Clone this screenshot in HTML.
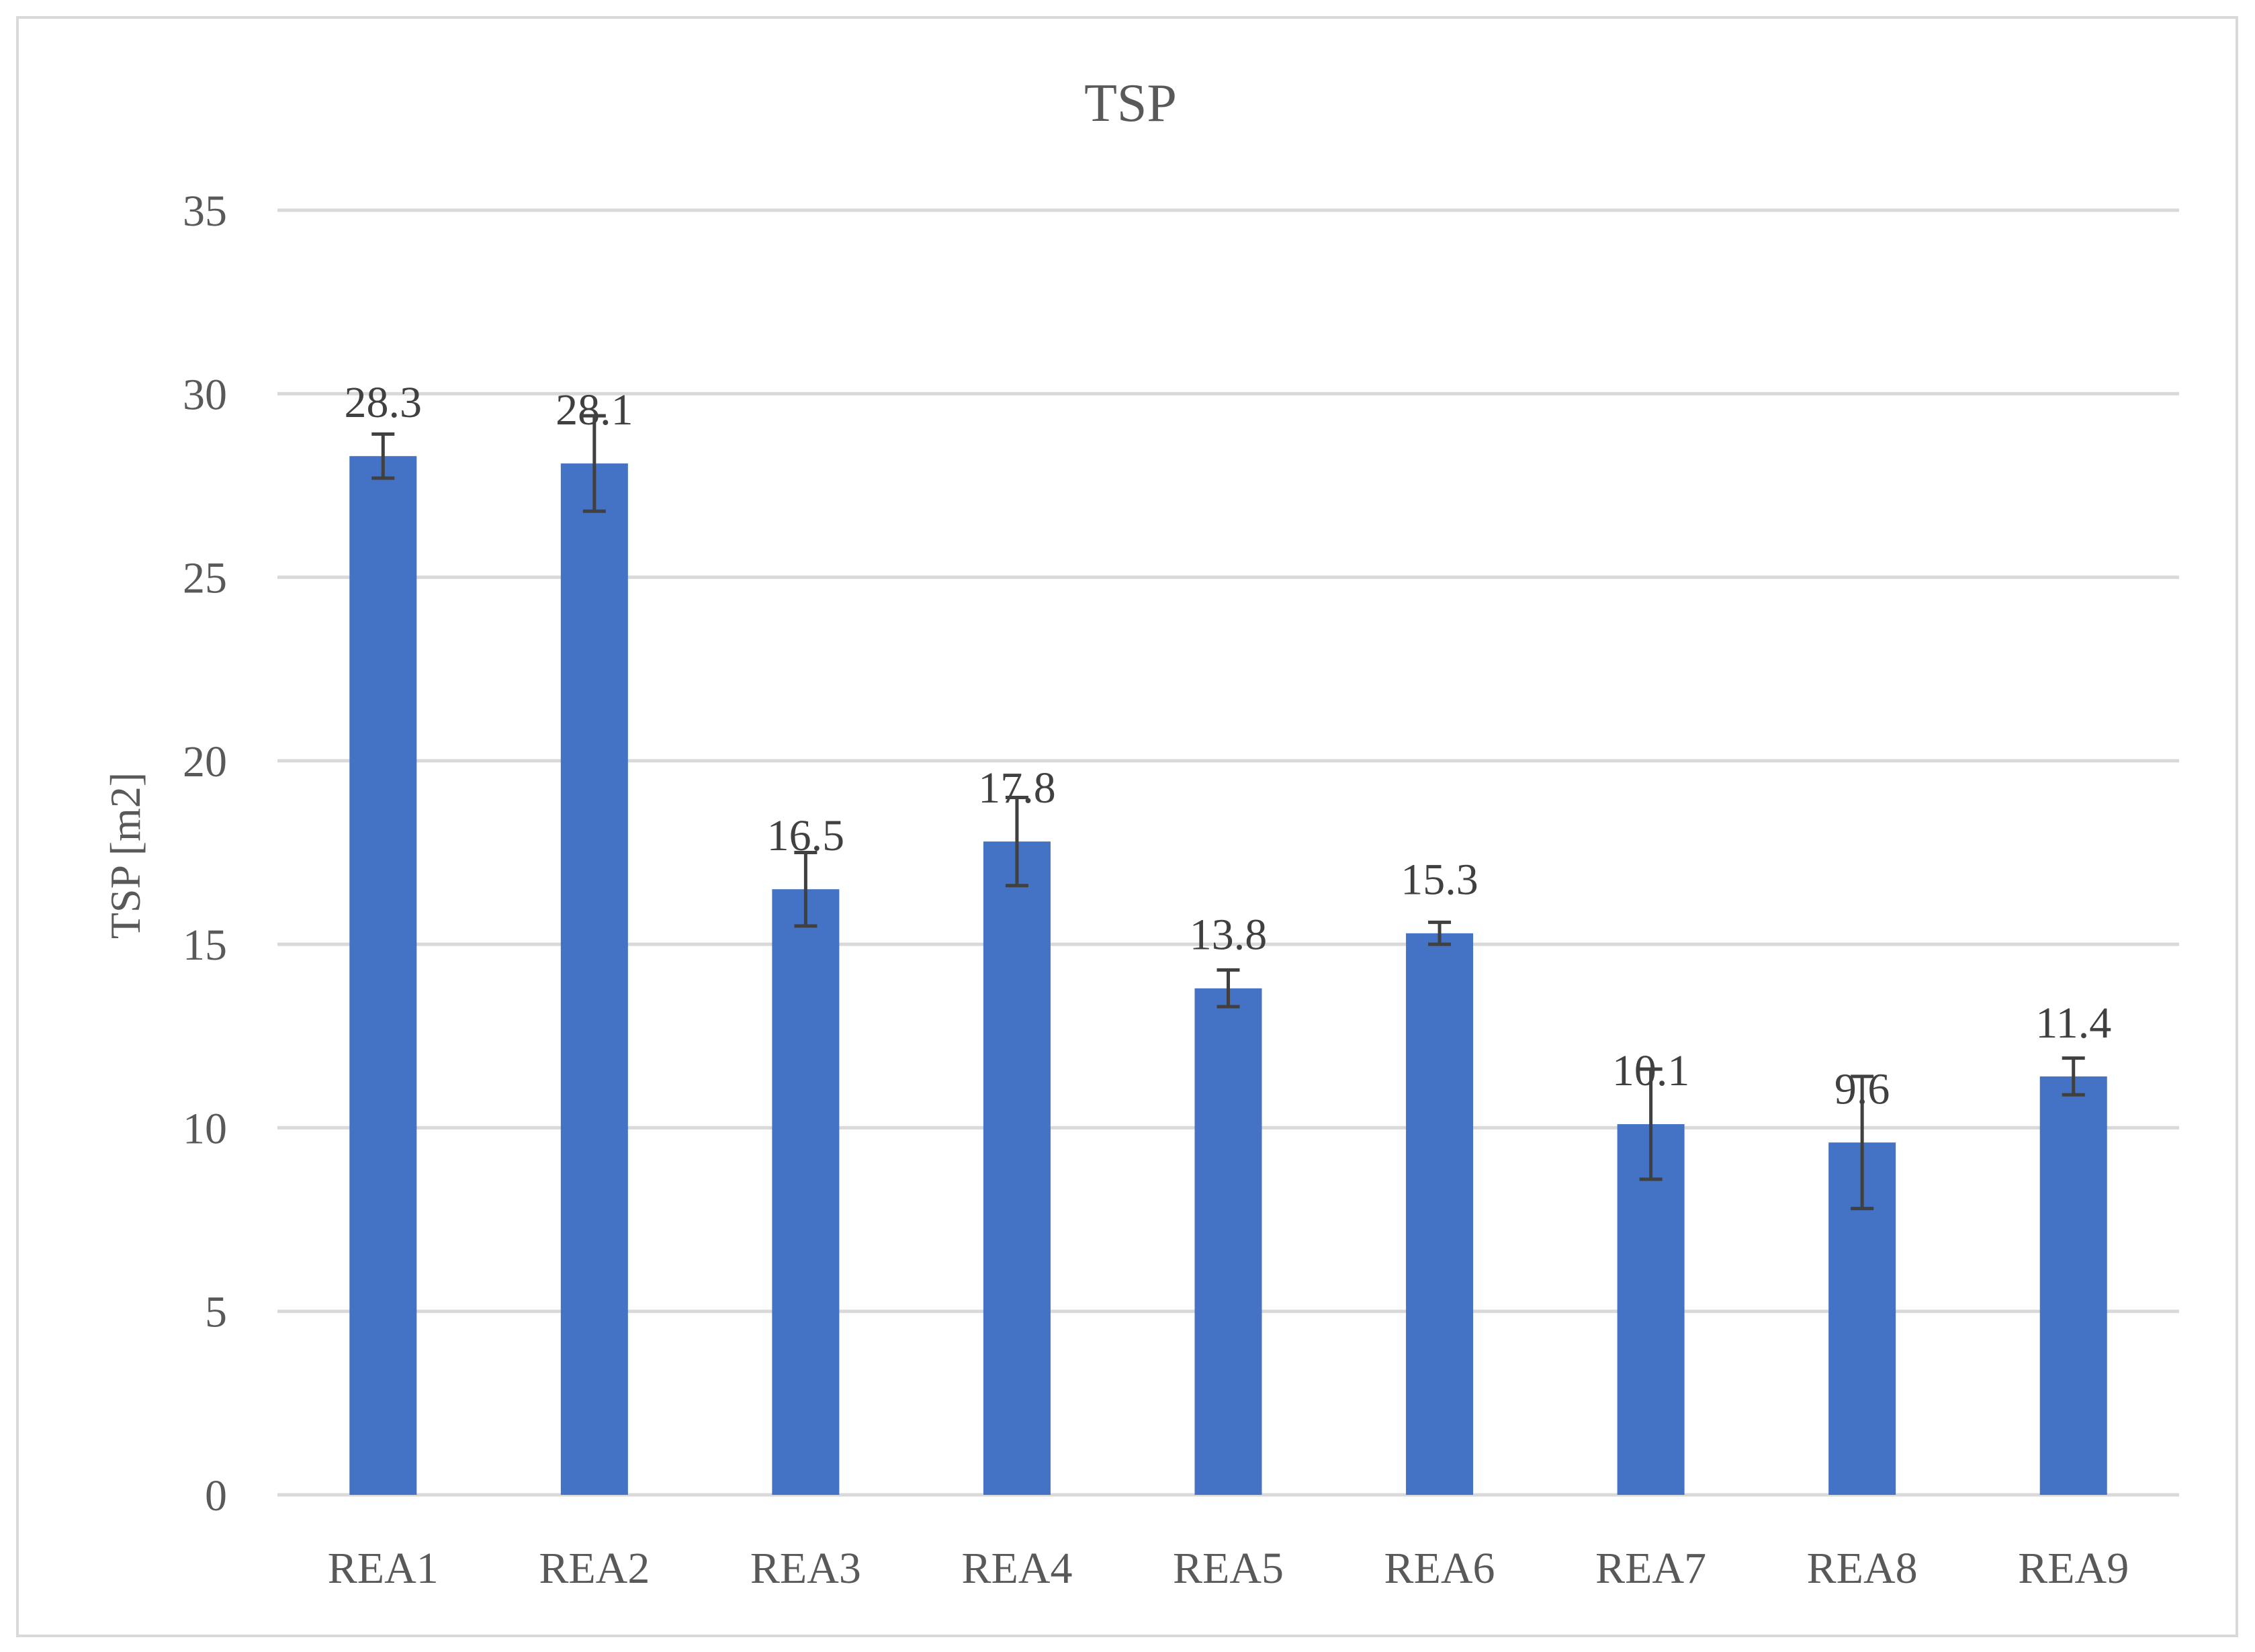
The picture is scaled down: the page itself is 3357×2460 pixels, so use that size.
<!DOCTYPE html>
<html><head><meta charset="utf-8"><style>
html,body{margin:0;padding:0;background:#fff;}
svg{display:block;font-family:"Liberation Serif",serif;}
</style></head><body>
<svg id="chart" width="3357" height="2460" viewBox="0 0 3357 2460" xmlns="http://www.w3.org/2000/svg">
<rect x="26" y="26" width="3304" height="2410" fill="#fff" stroke="#d9d9d9" stroke-width="4"/>
<text x="1683" y="180" text-anchor="middle" font-size="80" fill="#595959">TSP</text>
<text transform="translate(208,1274) rotate(-90)" text-anchor="middle" font-size="64" fill="#595959">TSP [m2]</text>
<g id="grid"></g><g id="bars"></g><g id="labels"></g>
</svg>
<script>
const categories=["REA1","REA2","REA3","REA4","REA5","REA6","REA7","REA8","REA9"];
const values=[28.3,28.1,16.5,17.8,13.8,15.3,10.1,9.6,11.4];
const errors=[0.6,1.3,1.0,1.2,0.5,0.3,1.5,1.8,0.5];
const yTicks=[0,5,10,15,20,25,30,35];
const valueLabels=["28.3","28.1","16.5","17.8","13.8","15.3","10.1","9.6","11.4"];
const NS="http://www.w3.org/2000/svg";
const x0=413,x1=3244,yBase=2226,yTop=313,yMax=35;
const y=v=>yBase-(v/yMax)*(yBase-yTop);
const band=(x1-x0)/categories.length;
const xc=i=>x0+band*(i+0.5);
function mk(t,a,p){const e=document.createElementNS(NS,t);for(const k in a)e.setAttribute(k,a[k]);p.appendChild(e);return e;}
const grid=document.getElementById('grid'),bars=document.getElementById('bars'),labels=document.getElementById('labels');
yTicks.forEach(v=>{
 const l=mk('line',{x1:x0,x2:x1,y1:y(v),y2:y(v),stroke:'#d9d9d9','stroke-width':5},grid);
 
 
 const t=mk('text',{x:338,y:y(v)+23,'text-anchor':'end','font-size':66,fill:'#595959'},grid);
 t.textContent=v;
 
 
});
const bw=100;
categories.forEach((c,i)=>{
 const v=values[i],cx=xc(i);
 const r=mk('rect',{x:cx-bw/2,y:y(v),width:bw,height:yBase-y(v),fill:'#4472c4'},bars);
 
 
 const hi=y(v+errors[i]),lo=y(v-errors[i]);
 const g=mk('g',{stroke:'#404040','stroke-width':5},bars);
 
 
 mk('line',{x1:cx,x2:cx,y1:hi,y2:lo},g);
 mk('line',{x1:cx-17,x2:cx+17,y1:hi,y2:hi},g);
 mk('line',{x1:cx-17,x2:cx+17,y1:lo,y2:lo},g);
 const t=mk('text',{x:cx,y:y(v)-58,'text-anchor':'middle','font-size':66,fill:'#404040'},labels);
 t.textContent=valueLabels[i];
 
 
 const xl=mk('text',{x:cx,y:2357,'text-anchor':'middle','font-size':66,fill:'#595959'},labels);
 xl.textContent=c;
 
 
});
</script>
</body></html>
